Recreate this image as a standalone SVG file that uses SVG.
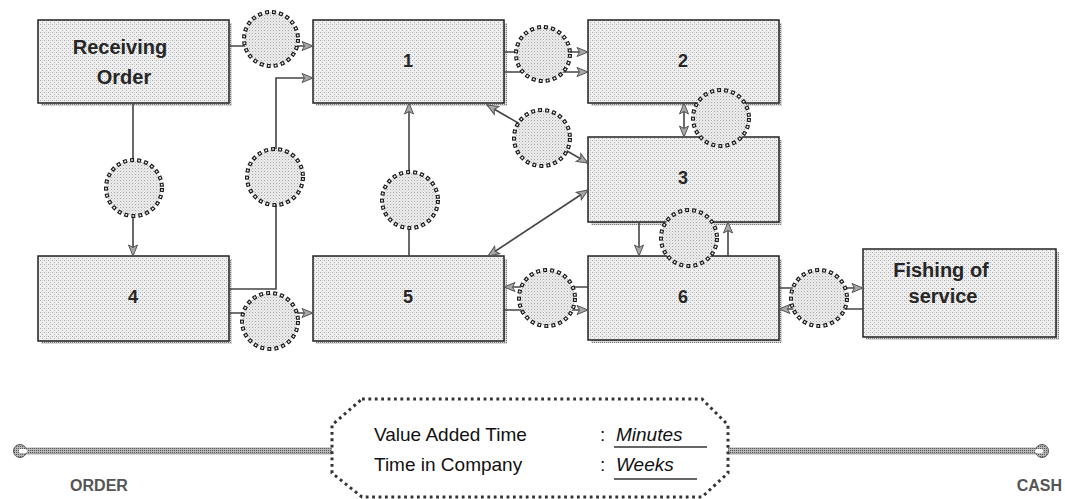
<svg xmlns="http://www.w3.org/2000/svg" width="1065" height="499" viewBox="0 0 1065 499">
<defs>
<pattern id="stip" width="4" height="4" patternUnits="userSpaceOnUse">
<rect width="4" height="4" fill="#efefef"/>
<rect x="0" y="0" width="1" height="1" fill="#ababab"/>
<rect x="2" y="2" width="1" height="1" fill="#b0b0b0"/>
<rect x="2" y="0" width="1" height="1" fill="#d6d6d6"/>
</pattern>
<pattern id="stipc" width="3" height="3" patternUnits="userSpaceOnUse">
<rect width="3" height="3" fill="#ececec"/>
<rect x="0" y="0" width="1" height="1" fill="#a8a8a8"/>
<rect x="1.5" y="1.5" width="1" height="1" fill="#c8c8c8"/>
</pattern>
<pattern id="shad" width="2" height="2" patternUnits="userSpaceOnUse">
<rect width="2" height="2" fill="#d8d8d8"/>
<rect width="1" height="1" fill="#777"/>
</pattern>
<pattern id="bar" width="2" height="2" patternUnits="userSpaceOnUse">
<rect width="2" height="2" fill="#b8b8b8"/>
<rect width="1" height="1" fill="#555"/>
</pattern>
<marker id="arr" markerUnits="userSpaceOnUse" markerWidth="13" markerHeight="11" refX="12" refY="5.5" orient="auto-start-reverse">
<path d="M1,1 L12,5.5 L1,10 L3.5,5.5 z" fill="#a8a8a8" stroke="#555" stroke-width="1"/>
</marker>
</defs>
<style>
.box{fill:url(#stip);stroke:#222;stroke-width:1.5}
.sh{fill:url(#shad)}
.lbl{font-family:"Liberation Sans",Arial,sans-serif;font-weight:bold;fill:#262626;text-anchor:middle}
.big{font-size:20px}
.num{font-size:18px}
.con{fill:none;stroke:#444;stroke-width:1.6}
.arr{marker-end:url(#arr)}
.bi{marker-start:url(#arr);marker-end:url(#arr)}
.cf{fill:url(#stipc)}
.co{fill:none;stroke:#1a1a1a;stroke-width:4;stroke-dasharray:4 3.1}
.ci{fill:none;stroke:#f6f6f6;stroke-width:1.7;stroke-dasharray:1.7 5.4;stroke-dashoffset:-1.15}
.txt{font-family:"Liberation Sans",Arial,sans-serif;font-size:19px;fill:#111}
.end{font-family:"Liberation Sans",Arial,sans-serif;font-size:16px;font-weight:bold;fill:#555}
</style>
<rect width="1065" height="499" fill="#ffffff"/>

<g id="node-receiving">
<rect class="sh" x="41" y="23" width="191" height="83"/>
<rect class="box" x="38" y="20" width="191" height="83"/>
<text class="lbl big" x="120" y="54">Receiving</text>
<text class="lbl big" x="124" y="84">Order</text>
</g>
<g id="node-1">
<rect class="sh" x="316" y="23" width="191" height="83"/>
<rect class="box" x="313" y="20" width="191" height="83"/>
<text class="lbl num" x="408" y="67">1</text>
</g>
<g id="node-2">
<rect class="sh" x="591" y="23" width="191" height="83"/>
<rect class="box" x="588" y="20" width="191" height="83"/>
<text class="lbl num" x="683" y="67">2</text>
</g>
<g id="node-3">
<rect class="sh" x="591" y="140" width="191" height="85"/>
<rect class="box" x="588" y="137" width="191" height="85"/>
<text class="lbl num" x="683" y="184">3</text>
</g>
<g id="node-4">
<rect class="sh" x="41" y="259" width="191" height="85"/>
<rect class="box" x="38" y="256" width="191" height="85"/>
<text class="lbl num" x="133" y="303">4</text>
</g>
<g id="node-5">
<rect class="sh" x="316" y="259" width="191" height="85"/>
<rect class="box" x="313" y="256" width="191" height="85"/>
<text class="lbl num" x="408" y="303">5</text>
</g>
<g id="node-6">
<rect class="sh" x="591" y="259" width="191" height="84"/>
<rect class="box" x="588" y="256" width="191" height="84"/>
<text class="lbl num" x="683" y="303">6</text>
</g>
<g id="node-fishing">
<rect class="sh" x="866" y="252" width="193" height="88"/>
<rect class="box" x="863" y="249" width="193" height="88"/>
<text class="lbl big" x="941" y="277">Fishing of</text>
<text class="lbl big" x="943" y="303">service</text>
</g>

<g id="connectors">
<path class="con arr" d="M229,46 H313"/>
<path class="con arr" d="M133,103 V256"/>
<path class="con arr" d="M229,289 H276 V78 H313"/>
<path class="con arr" d="M229,313 H313"/>
<path class="con arr" d="M409,256 V103"/>
<path class="con arr" d="M504,52 H588"/>
<path class="con arr" d="M504,72 H588"/>
<path class="con bi" d="M487,105 L588,163"/>
<path class="con bi" d="M684,103 V137"/>
<path class="con bi" d="M588,190 L488,256"/>
<path class="con arr" d="M639,222 V256"/>
<path class="con arr" d="M728,256 V222"/>
<path class="con arr" d="M588,287 H504"/>
<path class="con arr" d="M504,310 H588"/>
<path class="con arr" d="M779,288 H863"/>
<path class="con arr" d="M863,309 H779"/>
</g>

<g id="wait-markers">
<g id="w1"><circle class="cf" cx="271" cy="39" r="27"/><circle class="co" cx="271" cy="39" r="27"/><circle class="ci" cx="271" cy="39" r="27"/></g>
<g id="w2"><circle class="cf" cx="543" cy="54" r="27"/><circle class="co" cx="543" cy="54" r="27"/><circle class="ci" cx="543" cy="54" r="27"/></g>
<g id="w3"><circle class="cf" cx="542" cy="138" r="28"/><circle class="co" cx="542" cy="138" r="28"/><circle class="ci" cx="542" cy="138" r="28"/></g>
<g id="w4"><circle class="cf" cx="721" cy="118" r="28"/><circle class="co" cx="721" cy="118" r="28"/><circle class="ci" cx="721" cy="118" r="28"/></g>
<g id="w5"><circle class="cf" cx="689" cy="238" r="28"/><circle class="co" cx="689" cy="238" r="28"/><circle class="ci" cx="689" cy="238" r="28"/></g>
<g id="w6"><circle class="cf" cx="547" cy="298" r="28"/><circle class="co" cx="547" cy="298" r="28"/><circle class="ci" cx="547" cy="298" r="28"/></g>
<g id="w7"><circle class="cf" cx="819" cy="298" r="28"/><circle class="co" cx="819" cy="298" r="28"/><circle class="ci" cx="819" cy="298" r="28"/></g>
<g id="w8"><circle class="cf" cx="134" cy="188" r="28"/><circle class="co" cx="134" cy="188" r="28"/><circle class="ci" cx="134" cy="188" r="28"/></g>
<g id="w9"><circle class="cf" cx="275" cy="177" r="28"/><circle class="co" cx="275" cy="177" r="28"/><circle class="ci" cx="275" cy="177" r="28"/></g>
<g id="w10"><circle class="cf" cx="410" cy="200" r="28"/><circle class="co" cx="410" cy="200" r="28"/><circle class="ci" cx="410" cy="200" r="28"/></g>
<g id="w11"><circle class="cf" cx="270" cy="321" r="28"/><circle class="co" cx="270" cy="321" r="28"/><circle class="ci" cx="270" cy="321" r="28"/></g>
</g>

<g id="timeline">
<rect x="22" y="448" width="310" height="6" fill="url(#bar)" stroke="#777" stroke-width="0.6"/>
<rect x="728" y="448" width="312" height="6" fill="url(#bar)" stroke="#777" stroke-width="0.6"/>
<circle cx="20" cy="451" r="6.5" fill="url(#bar)" stroke="#555" stroke-width="1"/>
<rect x="19" y="449" width="8" height="4" rx="1.5" fill="#fff"/>
<circle cx="1042" cy="451" r="6.5" fill="url(#bar)" stroke="#555" stroke-width="1"/>
<rect x="1035" y="449" width="8" height="4" rx="1.5" fill="#fff"/>
<text class="end" x="99" y="491" text-anchor="middle">ORDER</text>
<text class="end" x="1062" y="491" text-anchor="end">CASH</text>
</g>

<g id="summary">
<path d="M362,399 H702 L728,425 V473 L702,497 H362 L332,473 V425 Z" fill="#fff" stroke="#333" stroke-width="3" stroke-dasharray="2.8 3.6"/>
<text class="txt" x="374" y="441">Value Added Time</text>
<text class="txt" x="374" y="471">Time in Company</text>
<text class="txt" x="600" y="441">:</text>
<text class="txt" x="600" y="471">:</text>
<text class="txt" x="616" y="441" font-style="italic">Minutes</text>
<text class="txt" x="616" y="471" font-style="italic">Weeks</text>
<line x1="614" y1="447" x2="707" y2="447" stroke="#333" stroke-width="1.3"/>
<line x1="614" y1="479" x2="697" y2="479" stroke="#333" stroke-width="1.3"/>
</g>
</svg>
